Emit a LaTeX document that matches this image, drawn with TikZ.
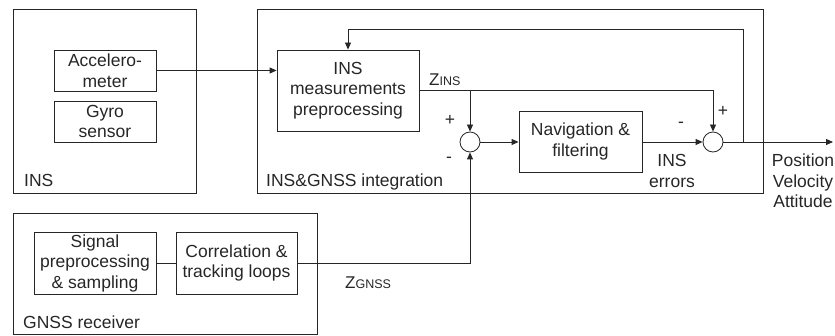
\documentclass[tikz,border=0pt]{standalone}
\usepackage{fontspec}
\setmainfont{Liberation Sans}
\usetikzlibrary{arrows.meta,calc}
\definecolor{ink}{HTML}{262626}
\newcommand{\subtxt}[2]{{\fontsize{#1}{#1}\selectfont #2}}
\tikzset{
  every node/.style={text=ink},
  body/.style={font=\fontsize{17.5}{20.5}\selectfont},
  blockbox/.style={draw=ink, line width=0.85pt, rectangle, inner sep=0pt, align=center, body},
  groupbox/.style={draw=ink, line width=0.85pt, rectangle, inner sep=0pt},
  sumnode/.style={draw=ink, line width=0.85pt, circle, minimum size=20pt, inner sep=0pt},
  wire/.style={draw=ink, line width=0.85pt},
  arrowwire/.style={wire, -{Triangle[length=7pt,width=6pt]}},
  sign/.style={body, inner sep=0pt},
  grouplabel/.style={body, anchor=base west, inner sep=0pt},
  signame/.style={font=\fontsize{17}{20}\selectfont, anchor=base west, inner sep=0pt},
}
\begin{document}
\begin{tikzpicture}[x=1pt,y=-1pt]
\useasboundingbox (0,0) rectangle (835,336);

% enclosing groups
\node[groupbox, minimum width=183pt, minimum height=184pt] (insgroup) at (104.5,101) {};
\node[groupbox, minimum width=506pt, minimum height=184pt] (intgroup) at (510,101) {};
\node[groupbox, minimum width=304pt, minimum height=121pt] (gnssgroup) at (165,273.5) {};

\node[grouplabel] (inslbl) at (24,187) {INS};
\node[grouplabel] (intlbl) at (266,187) {INS\&GNSS integration};
\node[grouplabel] (gnsslbl) at (23,329) {GNSS receiver};

% INS sensors
\node[blockbox, minimum width=102pt, minimum height=41pt] (acc) at (105,70.5) {Accelero-\\meter};
\node[blockbox, minimum width=102pt, minimum height=41pt] (gyro) at (105,121.5) {Gyro\\sensor};

% integration blocks
\node[blockbox, minimum width=142pt, minimum height=81pt] (meas) at (348,90.5) {INS\\measurements\\preprocessing};
\node[sumnode] (sum1) at (470,142) {};
\node[blockbox, minimum width=123pt, minimum height=61pt] (nav) at (580.5,141.5) {Navigation \&\\filtering};
\node[sumnode] (sum2) at (713,142) {};

% GNSS receiver blocks
\node[blockbox, minimum width=122pt, minimum height=62pt] (sig) at (95,263) {Signal\\preprocessing\\\& sampling};
\node[blockbox, minimum width=121pt, minimum height=62pt] (corr) at (236.5,263) {Correlation \&\\tracking loops};

% helper points
\coordinate (zsplit) at (sum1 |- meas.east);
\coordinate (outend) at (833,142);
\coordinate (fbtap) at (743,142);
\coordinate (fbtop) at (743,29);

% connectors
\draw[arrowwire] (acc.east) -- (acc.east -| meas.west);
\draw[wire] (meas.east) -- (zsplit);
\draw[arrowwire] (zsplit) -- (sum2 |- zsplit) -- (sum2.north);
\draw[arrowwire] (zsplit) -- (sum1.north);
\draw[arrowwire] (sum1.east) -- (nav.west |- sum1.east);
\draw[arrowwire] (nav.east |- sum2.west) -- (sum2.west);
\draw[arrowwire] (sum2.east) -- (outend);
\draw[arrowwire] (fbtap) -- (fbtop) -| (meas.north);
\draw[wire] (sig.east |- corr.west) -- (corr.west);
\draw[arrowwire] (corr.east) -- (sum1 |- corr.east) -- (sum1.south);

% signal names and signs
\node[signame] (zins) at (429,86) {Z\subtxt{12.5}{INS}};
\node[signame] (zgnss) at (345,289) {Z\subtxt{12.5}{GNSS}};
\node[sign] (p1) at (450,120) {+};
\node[sign] (m1) at (449,160) {-};
\node[sign] (p2) at (723,111) {+};
\node[sign] (m2) at (681,125) {-};
\node[body, align=center, inner sep=0pt] (errlbl) at (672,171) {INS\\errors};
\node[body, align=center, inner sep=0pt] (outlbl) at (803,181) {Position\\Velocity\\Attitude};
\end{tikzpicture}
\end{document}
